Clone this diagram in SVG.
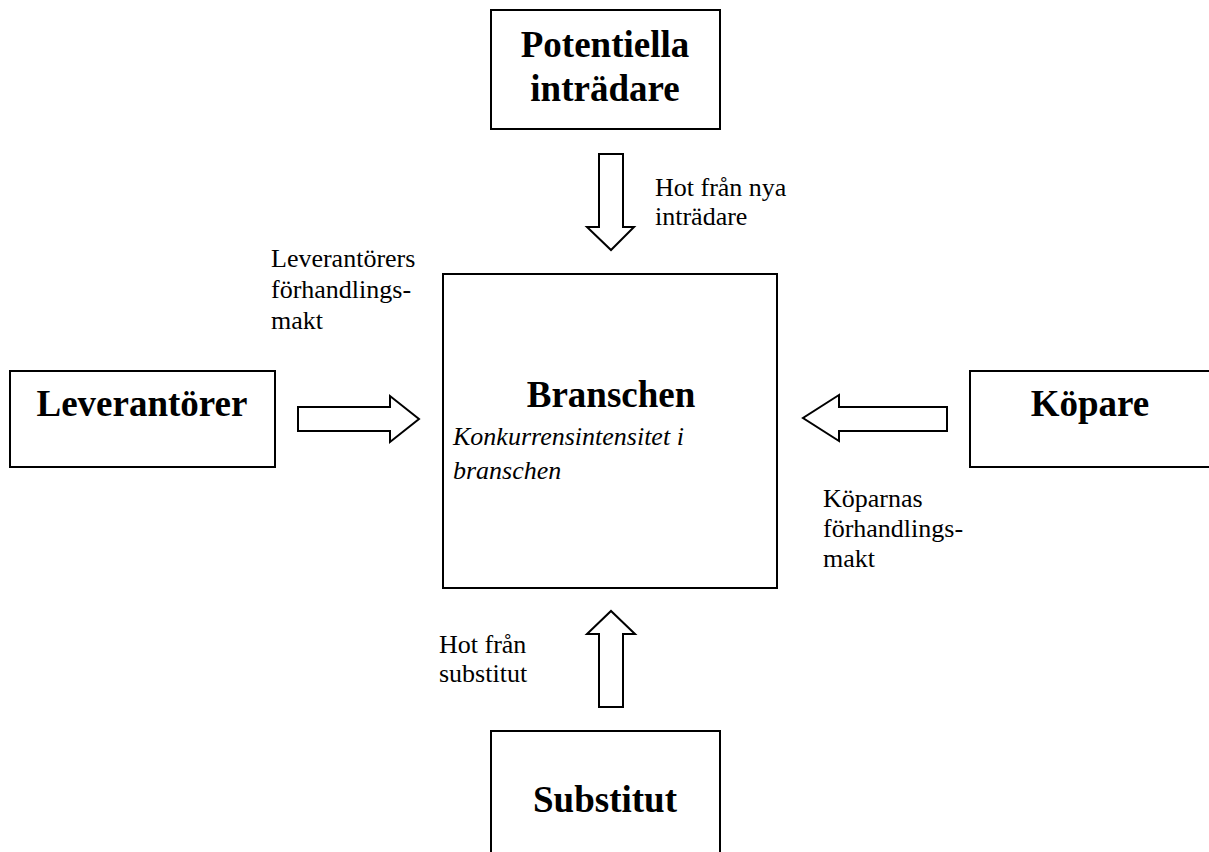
<svg xmlns="http://www.w3.org/2000/svg" width="1209" height="852" viewBox="0 0 1209 852">
<style>
.box{fill:#fff;stroke:#000;stroke-width:2}
.arr{fill:#fff;stroke:#000;stroke-width:2;stroke-linejoin:miter}
.b{font-family:"Liberation Serif","Times New Roman",serif;font-weight:bold;font-size:37px;fill:#000;text-anchor:middle}
.r{font-family:"Liberation Serif","Times New Roman",serif;font-size:26px;fill:#000}
.i{font-family:"Liberation Serif","Times New Roman",serif;font-style:italic;font-size:26px;fill:#000}
</style>
<rect width="1209" height="852" fill="#fff"/>
<g id="potentiella">
<rect class="box" x="491" y="10" width="229" height="119"/>
<text class="b" x="605" y="57">Potentiella</text>
<text class="b" x="605" y="101">inträdare</text>
</g>
<g id="leverantorer">
<rect class="box" x="10" y="371" width="265" height="96"/>
<text class="b" x="142" y="416">Leverantörer</text>
</g>
<g id="kopare">
<rect class="box" x="970" y="371" width="245" height="96"/>
<text class="b" x="1090" y="416">Köpare</text>
</g>
<g id="branschen">
<rect class="box" x="443" y="274" width="334" height="314"/>
<text class="b" x="611" y="407">Branschen</text>
<text class="i" x="453" y="445">Konkurrensintensitet i</text>
<text class="i" x="453" y="479">branschen</text>
</g>
<g id="substitut">
<rect class="box" x="491" y="731" width="229" height="130"/>
<text class="b" x="605" y="812">Substitut</text>
</g>
<g id="connectors">
<polygon class="arr" points="599,154 623,154 623,227 634,227 611,250 587,227 599,227"/>
<polygon class="arr" points="599,707 623,707 623,634 635,634 611,611 587,634 599,634"/>
<polygon class="arr" points="298,407 390,407 390,396 419,419 390,442 390,431 298,431"/>
<polygon class="arr" points="947,407 839,407 839,395 803,418 839,441 839,431 947,431"/>
</g>
<g id="labels">
<text class="r" x="655" y="196">Hot från nya</text>
<text class="r" x="655" y="225">inträdare</text>
<text class="r" x="271" y="267">Leverantörers</text>
<text class="r" x="271" y="298">förhandlings-</text>
<text class="r" x="271" y="329">makt</text>
<text class="r" x="823" y="507">Köparnas</text>
<text class="r" x="823" y="537">förhandlings-</text>
<text class="r" x="823" y="567">makt</text>
<text class="r" x="439" y="653">Hot från</text>
<text class="r" x="439" y="682">substitut</text>
</g>
</svg>
